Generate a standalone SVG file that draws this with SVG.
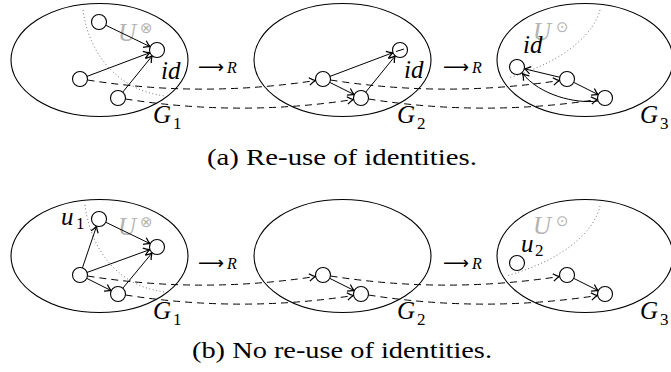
<svg xmlns="http://www.w3.org/2000/svg" width="671" height="372" viewBox="0 0 671 372">
<style>
.ell{fill:none;stroke:#000;stroke-width:1.1}
.nd{fill:#fff;stroke:#000;stroke-width:1.1}
.e{fill:none;stroke:#000;stroke-width:1}
.d{fill:none;stroke:#000;stroke-width:1;stroke-dasharray:7 5}
.dot{fill:none;stroke:#777;stroke-width:1;stroke-dasharray:1 2.5}
.m{font-family:'Liberation Serif','Times New Roman',Times,serif;font-style:italic;font-size:25px;fill:#000}
.sub{font-family:'Liberation Serif','Times New Roman',Times,serif;font-size:17px;fill:#000}
.g{font-family:'Liberation Serif','Times New Roman',Times,serif;font-style:italic;font-size:25px;fill:#b3b3b3}
.op{font-family:'DejaVu Sans',sans-serif;font-size:15px;fill:#b3b3b3}
.ar{font-family:'DejaVu Sans',sans-serif;font-size:18px;fill:#000}
.r{font-family:'Liberation Serif','Times New Roman',Times,serif;font-style:italic;font-size:16px;fill:#000}
.cap{font-family:'Liberation Serif','Times New Roman',Times,serif;font-size:23px;fill:#000}
</style>
<defs>
<marker id="a" markerWidth="10" markerHeight="10" refX="0" refY="0" viewBox="-6 -4 8 8" orient="auto" markerUnits="userSpaceOnUse">
<path d="M-5,-3 Q-2,-0.6 0,0 Q-2,0.6 -5,3" fill="none" stroke="#000" stroke-width="1"/>
</marker>
</defs>

<!-- top row -->
<g id="G1a">
<ellipse class="ell" cx="99.5" cy="60" rx="88.5" ry="56.5"/>
<path class="dot" d="M83 10 C88 50 115 90 165 96"/>
<text class="g" x="118" y="41">U</text><text class="op" x="140" y="33">⊗</text>
<text class="m" x="161" y="79">id</text>
<text class="m" x="153" y="123">G</text><text class="sub" x="173" y="129">1</text>
</g>
<g id="G2a">
<ellipse class="ell" cx="342.5" cy="60" rx="88.5" ry="56.5"/>
<text class="m" x="404" y="78">id</text>
<text class="m" x="397" y="123">G</text><text class="sub" x="417" y="129">2</text>
</g>
<g id="G3a">
<ellipse class="ell" cx="585" cy="60" rx="88" ry="56.5"/>
<path class="dot" d="M600 10 C595 30 570 60 508 78"/>
<text class="g" x="533" y="40">U</text><text class="op" x="556" y="32">⊙</text>
<text class="m" x="523" y="53">id</text>
<text class="m" x="640" y="123">G</text><text class="sub" x="660" y="129">3</text>
</g>
<g id="arrowsA">
<text class="ar" x="198" y="73" textLength="26" lengthAdjust="spacingAndGlyphs">⟶</text><text class="r" x="227" y="73">R</text>
<text class="ar" x="443" y="73" textLength="26" lengthAdjust="spacingAndGlyphs">⟶</text><text class="r" x="472" y="73">R</text>
</g>

<!-- bottom row -->
<g id="G1b">
<ellipse class="ell" cx="99.5" cy="256" rx="88.5" ry="56.5"/>
<path class="dot" d="M85 205 C90 246 115 286 165 292"/>
<text class="g" x="118" y="235">U</text><text class="op" x="140" y="227">⊗</text>
<text class="m" x="61" y="225">u</text><text class="sub" x="76" y="229">1</text>
<text class="m" x="153" y="319">G</text><text class="sub" x="173" y="325">1</text>
</g>
<g id="G2b">
<ellipse class="ell" cx="342.5" cy="256" rx="88.5" ry="56.5"/>
<text class="m" x="397" y="319">G</text><text class="sub" x="417" y="325">2</text>
</g>
<g id="G3b">
<ellipse class="ell" cx="585" cy="256" rx="88" ry="56.5"/>
<path class="dot" d="M600 206 C595 228 570 258 506 276"/>
<text class="g" x="533" y="234">U</text><text class="op" x="556" y="226">⊙</text>
<text class="m" x="521" y="252">u</text><text class="sub" x="535" y="256">2</text>
<text class="m" x="640" y="319">G</text><text class="sub" x="660" y="325">3</text>
</g>
<g id="arrowsB">
<text class="ar" x="198" y="269" textLength="26" lengthAdjust="spacingAndGlyphs">⟶</text><text class="r" x="227" y="269">R</text>
<text class="ar" x="443" y="269" textLength="26" lengthAdjust="spacingAndGlyphs">⟶</text><text class="r" x="472" y="269">R</text>
</g>

<!-- connectors -->
<g id="connectors">
<line class="e" x1="105.75" y1="25.26" x2="150.25" y2="46.74" marker-end="url(#a)"/>
<line class="e" x1="87.02" y1="76.36" x2="149.98" y2="52.64" marker-end="url(#a)"/>
<line class="e" x1="122.73" y1="92.18" x2="152.27" y2="55.82" marker-end="url(#a)"/>
<line class="e" x1="330.02" y1="76.36" x2="392.98" y2="52.64" marker-end="url(#a)"/>
<line class="e" x1="329.71" y1="82.35" x2="354.29" y2="94.65" marker-end="url(#a)"/>
<line class="e" x1="365.73" y1="92.18" x2="395.27" y2="55.82" marker-end="url(#a)"/>
<line class="e" x1="559.71" y1="77.25" x2="524.29" y2="68.75" marker-end="url(#a)"/>
<line class="e" x1="573.71" y1="82.35" x2="598.29" y2="94.65" marker-end="url(#a)"/>
<path class="e" d="M598 101 C575 104 540 95 522.5 73.5" marker-end="url(#a)"/>
<path class="d" d="M87.5 80 Q201 98 315.5 80.5" marker-end="url(#a)"/>
<path class="d" d="M330.5 80 Q445 98 559.5 80.5" marker-end="url(#a)"/>
<path class="d" d="M125.5 99 Q240 117 353.5 99.5" marker-end="url(#a)"/>
<path class="d" d="M368.5 99 Q483 117 597.5 99.5" marker-end="url(#a)"/>
<line class="e" x1="82.41" y1="267.9" x2="96.59" y2="226.1" marker-end="url(#a)"/>
<line class="e" x1="105.75" y1="222.26" x2="150.25" y2="243.74" marker-end="url(#a)"/>
<line class="e" x1="87.05" y1="272.44" x2="149.95" y2="249.56" marker-end="url(#a)"/>
<line class="e" x1="86.71" y1="278.35" x2="111.29" y2="290.65" marker-end="url(#a)"/>
<line class="e" x1="122.79" y1="288.23" x2="152.21" y2="252.77" marker-end="url(#a)"/>
<line class="e" x1="329.71" y1="278.35" x2="354.29" y2="290.65" marker-end="url(#a)"/>
<line class="e" x1="573.71" y1="278.35" x2="598.29" y2="290.65" marker-end="url(#a)"/>
<path class="d" d="M87.5 276 Q201 294 315.5 276.5" marker-end="url(#a)"/>
<path class="d" d="M330.5 276 Q445 294 559.5 276.5" marker-end="url(#a)"/>
<path class="d" d="M125.5 295 Q240 313 353.5 295.5" marker-end="url(#a)"/>
<path class="d" d="M368.5 295 Q483 313 597.5 295.5" marker-end="url(#a)"/>
</g>

<!-- nodes -->
<g id="n_top_g1_u"><circle class="nd" cx="99" cy="22" r="7.5"/></g>
<g id="n_top_g1_id"><circle class="nd" cx="157" cy="50" r="7.5"/></g>
<g id="n_top_g1_l"><circle class="nd" cx="80" cy="79" r="7.5"/></g>
<g id="n_top_g1_b"><circle class="nd" cx="118" cy="98" r="7.5"/></g>
<g id="n_top_g2_id"><circle class="nd" cx="400" cy="50" r="7.5"/><line class="e" x1="396" y1="51.5" x2="404" y2="49"/></g>
<g id="n_top_g2_m"><circle class="nd" cx="323" cy="79" r="7.5"/></g>
<g id="n_top_g2_b"><circle class="nd" cx="361" cy="98" r="7.5"/></g>
<g id="n_top_g3_id"><circle class="nd" cx="517" cy="67" r="7.5"/></g>
<g id="n_top_g3_m"><circle class="nd" cx="567" cy="79" r="7.5"/></g>
<g id="n_top_g3_b"><circle class="nd" cx="605" cy="98" r="7.5"/></g>

<g id="n_bot_g1_u1"><circle class="nd" cx="99" cy="219" r="7.5"/></g>
<g id="n_bot_g1_r"><circle class="nd" cx="157" cy="247" r="7.5"/></g>
<g id="n_bot_g1_l"><circle class="nd" cx="80" cy="275" r="7.5"/></g>
<g id="n_bot_g1_b"><circle class="nd" cx="118" cy="294" r="7.5"/></g>
<g id="n_bot_g2_m"><circle class="nd" cx="323" cy="275" r="7.5"/></g>
<g id="n_bot_g2_b"><circle class="nd" cx="361" cy="294" r="7.5"/></g>
<g id="n_bot_g3_u2"><circle class="nd" cx="517" cy="263" r="7.5"/></g>
<g id="n_bot_g3_m"><circle class="nd" cx="567" cy="275" r="7.5"/></g>
<g id="n_bot_g3_b"><circle class="nd" cx="605" cy="294" r="7.5"/></g>

<text class="cap" x="207" y="165" textLength="270" lengthAdjust="spacingAndGlyphs">(a) Re-use of identities.</text>
<text class="cap" x="192" y="358" textLength="300" lengthAdjust="spacingAndGlyphs">(b) No re-use of identities.</text>
</svg>
